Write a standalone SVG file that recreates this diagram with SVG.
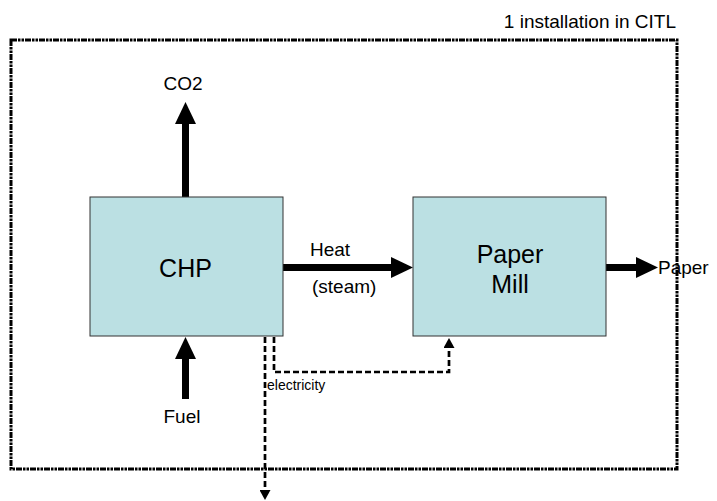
<svg xmlns="http://www.w3.org/2000/svg" width="717" height="501" viewBox="0 0 717 501">
<style>
text{font-family:"Liberation Sans",Arial,sans-serif;fill:#000}
.lbl{font-size:19px}
.big{font-size:25px;text-anchor:middle}
.box{fill:#BBE0E3;stroke:#333;stroke-width:1}
.thick{stroke:#000;stroke-width:7;fill:none}
.dash{stroke:#000;stroke-width:2.7;fill:none;stroke-dasharray:6 3}
.border{stroke:#000;stroke-width:3;fill:none;stroke-dasharray:6 1 2.5 1 2.5 1}
</style>
<defs>
<marker id="bigArrow" markerUnits="userSpaceOnUse" markerWidth="22" markerHeight="21" refX="1" refY="10.5" orient="auto" viewBox="0 0 22 21">
<path d="M0,0 L22,10.5 L0,21 Z" fill="#000"/>
</marker>
<marker id="smallArrow" markerUnits="userSpaceOnUse" markerWidth="10" markerHeight="11" refX="1" refY="5.5" orient="auto" viewBox="0 0 10 11">
<path d="M0,0 L10,5.5 L0,11 Z" fill="#000"/>
</marker>
</defs>
<g id="installation">
<rect class="border" x="11" y="40" width="666" height="429"/>
<text class="lbl" x="676" y="28" text-anchor="end">1 installation in CITL</text>
</g>
<g id="connectors">
<line class="thick" x1="185.5" y1="197" x2="185.5" y2="123" marker-end="url(#bigArrow)"/>
<line class="thick" x1="185.5" y1="399" x2="185.5" y2="358" marker-end="url(#bigArrow)"/>
<line class="thick" x1="283" y1="267.5" x2="392" y2="267.5" marker-end="url(#bigArrow)"/>
<line class="thick" x1="606" y1="267.5" x2="637" y2="267.5" marker-end="url(#bigArrow)"/>
<polyline class="dash" points="274,337 274,372 449,372 449,347" marker-end="url(#smallArrow)"/>
<line class="dash" x1="265" y1="337" x2="265" y2="491" marker-end="url(#smallArrow)"/>
<text class="lbl" x="310" y="256">Heat</text>
<text class="lbl" x="312" y="293">(steam)</text>
<text x="267" y="390" font-size="14">electricity</text>
</g>
<g id="chp">
<rect class="box" x="90" y="197" width="193" height="139"/>
<text class="big" x="185.5" y="277">CHP</text>
</g>
<g id="papermill">
<rect class="box" x="413" y="197" width="193" height="139"/>
<text class="big" x="510" y="263">Paper</text>
<text class="big" x="510" y="293">Mill</text>
</g>
<g id="co2">
<text class="lbl" x="183" y="90" text-anchor="middle">CO2</text>
</g>
<g id="fuel">
<text class="lbl" x="182" y="423" text-anchor="middle">Fuel</text>
</g>
<g id="paper">
<text class="lbl" x="658" y="274">Paper</text>
</g>
</svg>
